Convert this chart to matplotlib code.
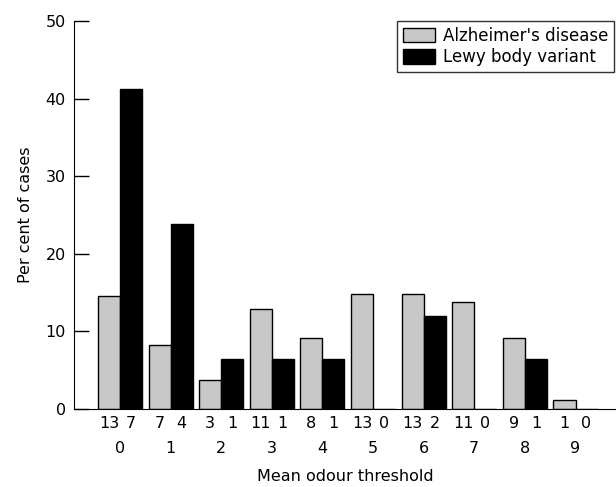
import matplotlib
matplotlib.use("Agg")
import matplotlib.pyplot as plt
import numpy as np

groups = ["0", "1", "2", "3", "4", "5", "6", "7", "8", "9"]
ad_pct = [14.6, 8.2, 3.7, 12.9, 9.2, 14.8, 14.8, 13.8, 9.1, 1.1]
lbv_pct = [41.3, 23.8, 6.5, 6.5, 6.5, 0, 12.0, 0, 6.5, 0]
ad_n = [13, 7, 3, 11, 8, 13, 13, 11, 9, 1]
lbv_n = [7, 4, 1, 1, 1, 0, 2, 0, 1, 0]
yticks = [0, 10, 20, 30, 40, 50]

plt.rcParams['font.family'] = ['DejaVu Sans']
fig = plt.figure(figsize=(6.16, 4.87), dpi=100)
ax = fig.add_axes([74/616, 78/487, (616-74)/616, (409-21)/487])

x = np.arange(len(groups))
w = 0.435
ax.bar(x - w/2, ad_pct, width=w, color="#c8c8c8", edgecolor="black", linewidth=1.0,
       label="Alzheimer's disease")
ax.bar(x + w/2, lbv_pct, width=w, color="black", edgecolor="black", linewidth=1.0,
       label="Lewy body variant")

ax.set_xlim(-0.909, 9.80)
ax.set_ylim(0, 50)
ax.set_yticks(yticks)
ax.tick_params(axis='y', direction='in', length=11, width=1, labelsize=11.5, pad=6)
ax.set_xticks([])
for s in ["top", "right"]:
    ax.spines[s].set_visible(False)

trans = ax.get_xaxis_transform()
for i in range(len(groups)):
    ax.text(x[i] - w/2, -0.018, str(ad_n[i]), transform=trans, ha='center', va='top', fontsize=11.5)
    ax.text(x[i] + w/2, -0.018, str(lbv_n[i]), transform=trans, ha='center', va='top', fontsize=11.5)
    ax.text(x[i], -0.083, groups[i], transform=trans, ha='center', va='top', fontsize=11.5)

ax.set_xlabel("Mean odour threshold", fontsize=11.5, labelpad=0)
ax.xaxis.set_label_coords(0.5, -0.155)
ax.set_ylabel("Per cent of cases", fontsize=11.5)
ax.yaxis.set_label_coords(-0.075, 0.5)

leg = ax.legend(loc='upper right', bbox_to_anchor=(0.997, 1.0), fontsize=12,
                frameon=True, fancybox=False, edgecolor='black', handlelength=1.9,
                handleheight=0.95, borderpad=0.35, labelspacing=0.2, handletextpad=0.5,
                borderaxespad=0)
leg.get_frame().set_linewidth(1.0)

fig.savefig("out.png", dpi=100)
